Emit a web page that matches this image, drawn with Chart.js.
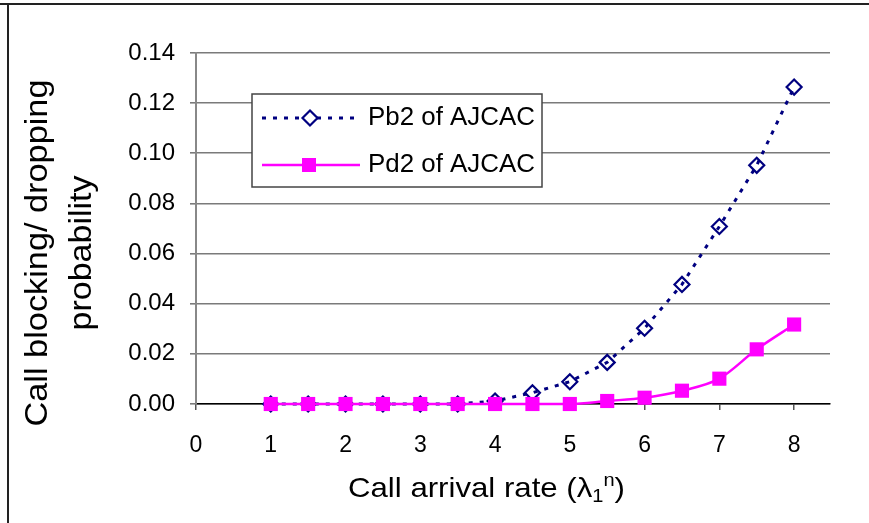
<!DOCTYPE html>
<html>
<head>
<meta charset="utf-8">
<script src="https://cdn.jsdelivr.net/npm/chart.js@4.4.0/dist/chart.umd.min.js"></script>
<style>
  body { margin: 0; background: #fff; }
  canvas { display: block; }
</style>
</head>
<body>
<canvas id="chart" width="869" height="523"></canvas>
<script>
// values
const arrivalRates = [1, 1.5, 2, 2.5, 3, 3.5, 4, 4.5, 5, 5.5, 6, 6.5, 7, 7.5, 8];
const pb2Values = [0, 0, 0, 0, 0, 0, 0.0012, 0.0045, 0.0089, 0.0166, 0.0302, 0.0477, 0.0708, 0.0952, 0.1264];
const pd2Values = [0, 0, 0, 0, 0, 0, 0, 0, 0, 0.0012, 0.0025, 0.0053, 0.0101, 0.0218, 0.0317];
const xTicks = [0, 1, 2, 3, 4, 5, 6, 7, 8];
const yTicks = [0, 0.02, 0.04, 0.06, 0.08, 0.10, 0.12, 0.14];

const FONT = '"Liberation Sans", Arial, sans-serif';
const NAVY = '#000080';
const PINK = '#FF00FF';

const toPoints = (ys) => arrivalRates.map((x, i) => ({ x: x, y: ys[i] }));

// draw text squeezed/stretched to a given width
function fitText(ctx, text, x, y, width) {
  const w = ctx.measureText(text).width;
  ctx.save();
  ctx.translate(x, y);
  ctx.scale(width / w, 1);
  ctx.fillText(text, 0, 0);
  ctx.restore();
}

// frame, axis titles and the boxed legend
const decorations = {
  id: 'decorations',
  beforeDraw(chart) {
    const ctx = chart.ctx;
    ctx.save();
    ctx.fillStyle = '#fff';
    ctx.fillRect(0, 0, chart.width, chart.height);
    ctx.strokeStyle = '#222';
    ctx.lineWidth = 2;
    ctx.beginPath();
    ctx.moveTo(0, 4);
    ctx.lineTo(chart.width, 4);
    ctx.moveTo(8, 4);
    ctx.lineTo(8, chart.height);
    ctx.stroke();
    ctx.restore();
  },
  afterDraw(chart) {
    const ctx = chart.ctx;
    ctx.save();
    ctx.fillStyle = '#000';
    ctx.textBaseline = 'alphabetic';
    ctx.textAlign = 'left';

    // x axis title with subscript / superscript
    const big = '28px ' + FONT, small = '18px ' + FONT;
    const parts = [
      { t: 'Call arrival rate (\u03bb', f: big, dy: 0 },
      { t: '1', f: small, dy: 5 },
      { t: 'n', f: small, dy: -11 },
      { t: ')', f: big, dy: 0 }
    ];
    let total = 0;
    parts.forEach(p => { ctx.font = p.f; p.w = ctx.measureText(p.t).width; total += p.w; });
    const sx = 277 / total;
    ctx.translate(348, 497);
    ctx.scale(sx, 1);
    let cx = 0;
    parts.forEach(p => { ctx.font = p.f; ctx.fillText(p.t, cx, p.dy); cx += p.w; });
    ctx.restore();

    // y axis title, two rotated lines
    ctx.save();
    ctx.fillStyle = '#000';
    ctx.font = '31px ' + FONT;
    ctx.textBaseline = 'alphabetic';
    [['Call blocking/ dropping', 46.5, 347], ['probability', 90.5, 155]].forEach(([txt, bx, len]) => {
      ctx.save();
      ctx.translate(bx, 253);
      ctx.rotate(-Math.PI / 2);
      fitText(ctx, txt, -len / 2, 0, len);
      ctx.restore();
    });
    ctx.restore();

    // legend box
    ctx.save();
    ctx.fillStyle = '#fff';
    ctx.fillRect(252, 94, 290, 93);
    ctx.strokeStyle = '#444';
    ctx.lineWidth = 1.5;
    ctx.strokeRect(252, 94, 290, 93);
    const ds = chart.data.datasets;
    // Pb2 entry
    ctx.strokeStyle = NAVY;
    ctx.lineWidth = 3;
    ctx.setLineDash([4, 7]);
    ctx.beginPath();
    ctx.moveTo(262, 118);
    ctx.lineTo(355, 118);
    ctx.stroke();
    ctx.setLineDash([]);
    ctx.fillStyle = '#fff';
    ctx.lineWidth = 2.2;
    ctx.beginPath();
    ctx.moveTo(310, 110.5);
    ctx.lineTo(317.5, 118);
    ctx.lineTo(310, 125.5);
    ctx.lineTo(302.5, 118);
    ctx.closePath();
    ctx.fill();
    ctx.stroke();
    // Pd2 entry
    ctx.strokeStyle = PINK;
    ctx.lineWidth = 2.5;
    ctx.beginPath();
    ctx.moveTo(262, 165);
    ctx.lineTo(360, 165);
    ctx.stroke();
    ctx.fillStyle = PINK;
    ctx.fillRect(302, 158, 14, 14);
    // labels
    ctx.fillStyle = '#000';
    ctx.font = '25px ' + FONT;
    ctx.textBaseline = 'middle';
    fitText(ctx, ds[1].label, 368, 118, 167);
    fitText(ctx, ds[0].label, 368, 165, 167);
    ctx.restore();
  }
};

new Chart(document.getElementById('chart'), {
  type: 'line',
  data: {
    datasets: [
      {
        label: 'Pd2 of AJCAC',
        data: toPoints(pd2Values),
        borderColor: PINK,
        backgroundColor: PINK,
        borderWidth: 2.5,
        cubicInterpolationMode: 'monotone',
        pointStyle: 'rect',
        pointRadius: 10,
        pointBorderWidth: 0,
        pointBackgroundColor: PINK,
        clip: false,
        order: 0
      },
      {
        label: 'Pb2 of AJCAC',
        data: toPoints(pb2Values),
        borderColor: NAVY,
        backgroundColor: 'rgba(0,0,0,0)',
        borderWidth: 3,
        borderDash: [4, 7],
        tension: 0,
        pointStyle: 'rectRot',
        pointRadius: 7.5,
        pointBorderWidth: 2.2,
        pointBorderColor: NAVY,
        pointBackgroundColor: 'rgba(0,0,0,0)',
        clip: false,
        order: 1
      }
    ]
  },
  options: {
    responsive: false,
    animation: false,
    devicePixelRatio: 1,
    layout: { padding: { left: 0, right: 39, top: 53, bottom: 0 } },
    plugins: {
      legend: { display: false },
      tooltip: { enabled: false }
    },
    scales: {
      x: {
        type: 'linear',
        min: 0,
        max: 8.48,
        afterBuildTicks: (scale) => { scale.ticks = xTicks.map(v => ({ value: v })); },
        afterFit: (scale) => { scale.height = 119; },
        grid: { drawOnChartArea: false, drawTicks: true, tickLength: 6, tickColor: '#555', lineWidth: 1.5 },
        border: { color: '#000', width: 1.5 },
        ticks: {
          color: '#000',
          font: { family: FONT, size: 23 },
          padding: 22,
          maxRotation: 0,
          callback: (v) => String(v)
        }
      },
      y: {
        min: 0,
        max: 0.14,
        afterBuildTicks: (scale) => { scale.ticks = yTicks.map(v => ({ value: v })); },
        afterFit: (scale) => { scale.width = 196; },
        grid: { color: '#7a7a7a', lineWidth: 1.6, tickLength: 6, tickColor: '#7a7a7a' },
        border: { color: '#888', width: 2 },
        ticks: {
          color: '#000',
          font: { family: FONT, size: 24 },
          padding: 15,
          callback: (v) => v.toFixed(2)
        }
      }
    }
  },
  plugins: [decorations]
});
</script>
</body>
</html>
